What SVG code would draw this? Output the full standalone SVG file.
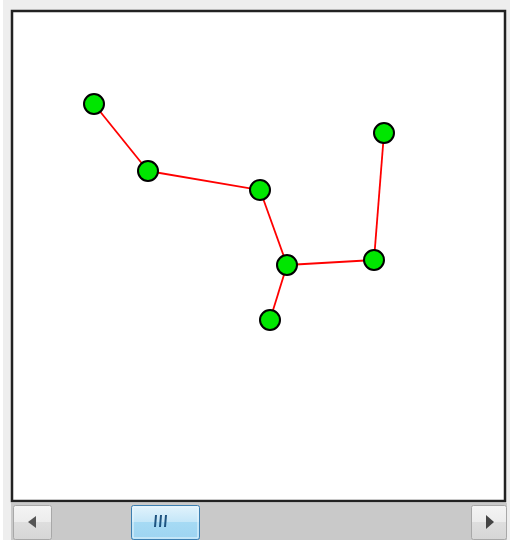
<svg xmlns="http://www.w3.org/2000/svg" width="512" height="540" viewBox="0 0 512 540">
<defs>
<style>
.node{fill:#00e600;stroke:#000;stroke-width:2}
.edge{stroke:#ff0000;stroke-width:1.8;fill:none}
</style>
<linearGradient id="thumb" x1="0" y1="0" x2="0" y2="1">
<stop offset="0" stop-color="#e2f3fc"/>
<stop offset="0.5" stop-color="#c3e6f8"/>
<stop offset="0.5" stop-color="#a6daf4"/>
<stop offset="1" stop-color="#9dd4f1"/>
</linearGradient>
<linearGradient id="btn" x1="0" y1="0" x2="0" y2="1">
<stop offset="0" stop-color="#f4f4f4"/>
<stop offset="0.5" stop-color="#ececec"/>
<stop offset="0.5" stop-color="#dedede"/>
<stop offset="1" stop-color="#d6d6d6"/>
</linearGradient>
</defs>
<rect x="0" y="0" width="512" height="540" fill="#ffffff"/>
<rect x="3" y="0" width="507" height="540" fill="#eeeeee"/>
<rect x="12" y="11" width="493" height="490" fill="#ffffff" stroke="#222" stroke-width="2.5"/>
<rect x="11" y="503" width="496" height="37" fill="#c9c9c9"/>
<g id="scrollbar">
<rect x="13.5" y="505.5" width="38" height="34" rx="2" fill="url(#btn)" stroke="#a8a8a8"/>
<polygon points="36,516 28,522 36,528" fill="#555"/>
<rect x="131.5" y="505.5" width="68" height="34" rx="2" fill="url(#thumb)" stroke="#3c7fb1"/>
<rect x="133" y="507" width="65" height="31" rx="1" fill="none" stroke="#e8f6fd" stroke-width="1"/>
<g stroke="#1d5380" stroke-width="2"><line x1="156" y1="515" x2="155" y2="527"/><line x1="161" y1="515" x2="160" y2="527"/><line x1="166" y1="515" x2="165" y2="527"/></g>
<rect x="471.5" y="505.5" width="35" height="34" rx="2" fill="url(#btn)" stroke="#a8a8a8"/>
<polygon points="486,515 494,522 486,529" fill="#444"/>
</g>
<g id="connectors">
<line class="edge" x1="94" y1="104" x2="148" y2="171"/>
<line class="edge" x1="148" y1="171" x2="260" y2="190"/>
<line class="edge" x1="260" y1="190" x2="287" y2="265"/>
<line class="edge" x1="287" y1="265" x2="374" y2="260"/>
<line class="edge" x1="374" y1="260" x2="384" y2="133"/>
<line class="edge" x1="287" y1="265" x2="270" y2="320"/>
</g>
<g id="n1"><circle class="node" cx="94" cy="104" r="10"/></g>
<g id="n2"><circle class="node" cx="148" cy="171" r="10"/></g>
<g id="n3"><circle class="node" cx="260" cy="190" r="10"/></g>
<g id="n4"><circle class="node" cx="287" cy="265" r="10"/></g>
<g id="n5"><circle class="node" cx="374" cy="260" r="10"/></g>
<g id="n6"><circle class="node" cx="384" cy="133" r="10"/></g>
<g id="n7"><circle class="node" cx="270" cy="320" r="10"/></g>
</svg>
